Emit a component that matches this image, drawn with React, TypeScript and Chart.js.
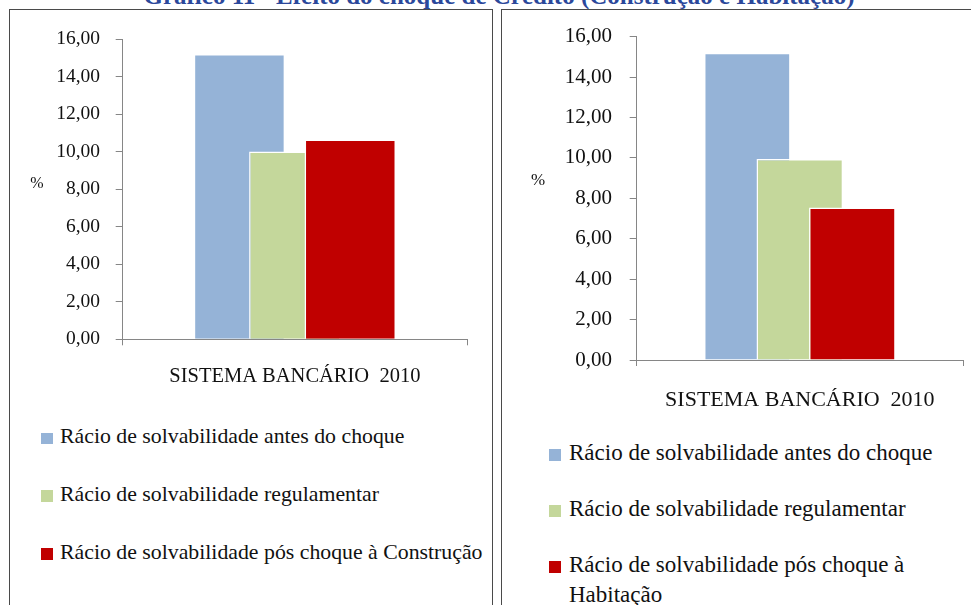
import React, { useEffect, useRef } from 'react';
import { Chart, registerables } from 'chart.js';

Chart.register(...registerables);

// ---------- data ----------
const TITLE = 'Gráfico 11 - Efeito do choque de Crédito (Construção e Habitação)';
const CATEGORIES = ['SISTEMA BANCÁRIO  2010'];
const UNIT_LABEL = '%';

const LABELS_CONSTRUCAO = [
  'Rácio de solvabilidade antes do choque',
  'Rácio de solvabilidade regulamentar',
  'Rácio de solvabilidade pós choque à Construção',
];
const LABELS_HABITACAO = [
  'Rácio de solvabilidade antes do choque',
  'Rácio de solvabilidade regulamentar',
  'Rácio de solvabilidade pós choque à Habitação',
];

const CONSTRUCAO_ANTES = [15.2];
const CONSTRUCAO_REGULAMENTAR = [10.0];
const CONSTRUCAO_POS = [10.65];

const HABITACAO_ANTES = [15.2];
const HABITACAO_REGULAMENTAR = [9.95];
const HABITACAO_POS = [7.55];

const Y_MIN = 0;
const Y_MAX = 16;
const Y_STEP = 2;

const SERIES_COLORS = ['#95B3D7', '#C4D79B', '#C00000'];

// ---------- styling ----------
const FONT = '"Liberation Serif", "Times New Roman", serif';
const AXIS_COLOR = '#868686';
const fmt = (v: number) => Number(v).toFixed(2).replace('.', ',');

const drawInOrder = {
  id: 'drawInOrder',
  beforeDatasetsDraw(chart: any) {
    for (let i = 0; i < chart.data.datasets.length; i++) {
      const meta = chart.getDatasetMeta(i);
      if (meta && meta.controller) meta.controller.draw();
    }
    return false;
  },
};

type Spec = {
  left: number; top: number; width: number; height: number;
  padTop: number; padRight: number; yWidth: number; xHeight: number;
  yTickLen: number; yTickPad: number; xTickLen: number; xTickPad: number;
  tickFont: number; catFont: number;
  series: number[][]; labels: string[];
};

function BarPanel({ spec }: { spec: Spec }) {
  const ref = useRef<HTMLCanvasElement>(null);
  useEffect(() => {
    const chart = new Chart(ref.current as HTMLCanvasElement, {
      type: 'bar',
      data: {
        labels: CATEGORIES,
        datasets: spec.series.map((vals, i) => ({
          label: spec.labels[i],
          data: vals,
          backgroundColor: SERIES_COLORS[i],
          borderColor: '#FFFFFF',
          borderWidth: 1.5,
          borderSkipped: 'start',
          categoryPercentage: 0.483,
          barPercentage: 1.65,
        })),
      },
      options: {
        responsive: false,
        maintainAspectRatio: false,
        devicePixelRatio: 1,
        animation: false,
        layout: { autoPadding: false, padding: { top: spec.padTop, right: spec.padRight, left: 0, bottom: 0 } },
        plugins: { legend: { display: false }, tooltip: { enabled: false }, title: { display: false } },
        scales: {
          x: {
            grid: { offset: true, drawOnChartArea: false, drawTicks: true, tickLength: spec.xTickLen, color: AXIS_COLOR, lineWidth: 1 },
            border: { display: true, color: AXIS_COLOR, width: 1, z: 1 },
            ticks: { padding: spec.xTickPad, color: '#111', maxRotation: 0, font: { family: FONT, size: spec.catFont } },
            afterFit: (s: any) => { s.height = spec.xHeight; s.paddingLeft = 0; s.paddingRight = 0; },
          },
          y: {
            min: Y_MIN,
            max: Y_MAX,
            ticks: { stepSize: Y_STEP, padding: spec.yTickPad, color: '#111', font: { family: FONT, size: spec.tickFont }, callback: (v: any) => fmt(v) },
            grid: { drawOnChartArea: false, drawTicks: true, tickLength: spec.yTickLen, color: AXIS_COLOR, lineWidth: 1 },
            border: { display: true, color: AXIS_COLOR, width: 1, z: 1 },
            afterFit: (s: any) => { s.width = spec.yWidth; s.paddingTop = 0; s.paddingBottom = 0; },
          },
        },
      } as any,
      plugins: [drawInOrder as any],
    });
    return () => chart.destroy();
  }, []);
  return (
    <canvas
      ref={ref}
      width={spec.width}
      height={spec.height}
      style={{ position: 'absolute', left: spec.left, top: spec.top, width: spec.width, height: spec.height }}
    />
  );
}

type LegendSpec = {
  left: number; top: number; width: number; fontSize: number; lineHeight: number; gap: number;
  square: number; squareOffset: number; labels: string[]; nowrap: boolean;
};

function Legend({ spec }: { spec: LegendSpec }) {
  const baseline = (spec.lineHeight - 1.107 * spec.fontSize) / 2 + 0.891 * spec.fontSize;
  return (
    <div style={{ position: 'absolute', left: spec.left, top: spec.top, width: spec.width, fontFamily: FONT, fontSize: spec.fontSize, lineHeight: spec.lineHeight + 'px', color: '#111' }}>
      {spec.labels.map((lab, i) => (
        <div key={i} style={{ position: 'relative', marginBottom: spec.gap, whiteSpace: spec.nowrap ? 'nowrap' : 'normal' }}>
          <span style={{ position: 'absolute', left: -spec.squareOffset, top: baseline - spec.square, width: spec.square, height: spec.square, background: SERIES_COLORS[i] }} />
          {lab}
        </div>
      ))}
    </div>
  );
}

const LEFT_SPEC: Spec = {
  left: 9, top: 20, width: 484, height: 370,
  padTop: 19, padRight: 26, yWidth: 113.7, xHeight: 50.7,
  yTickLen: 7, yTickPad: 15.7, xTickLen: 6, xTickPad: 19.5,
  tickFont: 19.5, catFont: 20.5,
  series: [CONSTRUCAO_ANTES, CONSTRUCAO_REGULAMENTAR, CONSTRUCAO_POS],
  labels: LABELS_CONSTRUCAO,
};

const RIGHT_SPEC: Spec = {
  left: 501, top: 20, width: 470, height: 400,
  padTop: 16.7, padRight: 8, yWidth: 135.7, xHeight: 60,
  yTickLen: 7, yTickPad: 17.7, xTickLen: 6, xTickPad: 20.8,
  tickFont: 21, catFont: 22,
  series: [HABITACAO_ANTES, HABITACAO_REGULAMENTAR, HABITACAO_POS],
  labels: LABELS_HABITACAO,
};

const LEFT_LEGEND: LegendSpec = {
  left: 60, top: 422.4, width: 440, fontSize: 21.8, lineHeight: 29, gap: 28.85,
  square: 11.6, squareOffset: 19, labels: LABELS_CONSTRUCAO, nowrap: true,
};

const RIGHT_LEGEND: LegendSpec = {
  left: 569, top: 438.2, width: 391, fontSize: 23, lineHeight: 29.4, gap: 26.6,
  square: 12, squareOffset: 20, labels: LABELS_HABITACAO, nowrap: false,
};

export default function App() {
  return (
    <div style={{ position: 'fixed', left: 0, top: 0, width: 971, height: 605, overflow: 'hidden', background: '#fff' }}>
      <div style={{ position: 'absolute', left: 0, top: -17.4, width: 998, textAlign: 'center', fontFamily: FONT, fontWeight: 'bold', fontSize: 25, lineHeight: '25px', color: '#2B489B', whiteSpace: 'nowrap' }}>
        {TITLE}
      </div>
      <div style={{ position: 'absolute', left: 9, top: 9, width: 484, height: 620, boxSizing: 'border-box', border: '1px solid #4a4a4a' }} />
      <div style={{ position: 'absolute', left: 501, top: 9, width: 500, height: 620, boxSizing: 'border-box', border: '1px solid #4a4a4a' }} />
      <BarPanel spec={LEFT_SPEC} />
      <BarPanel spec={RIGHT_SPEC} />
      <div style={{ position: 'absolute', left: 29, top: 173, width: 16, textAlign: 'center', fontFamily: FONT, fontSize: 16, lineHeight: '20px', color: '#111' }}>{UNIT_LABEL}</div>
      <div style={{ position: 'absolute', left: 530, top: 170, width: 16, textAlign: 'center', fontFamily: FONT, fontSize: 17, lineHeight: '20px', color: '#111' }}>{UNIT_LABEL}</div>
      <Legend spec={LEFT_LEGEND} />
      <Legend spec={RIGHT_LEGEND} />
    </div>
  );
}
